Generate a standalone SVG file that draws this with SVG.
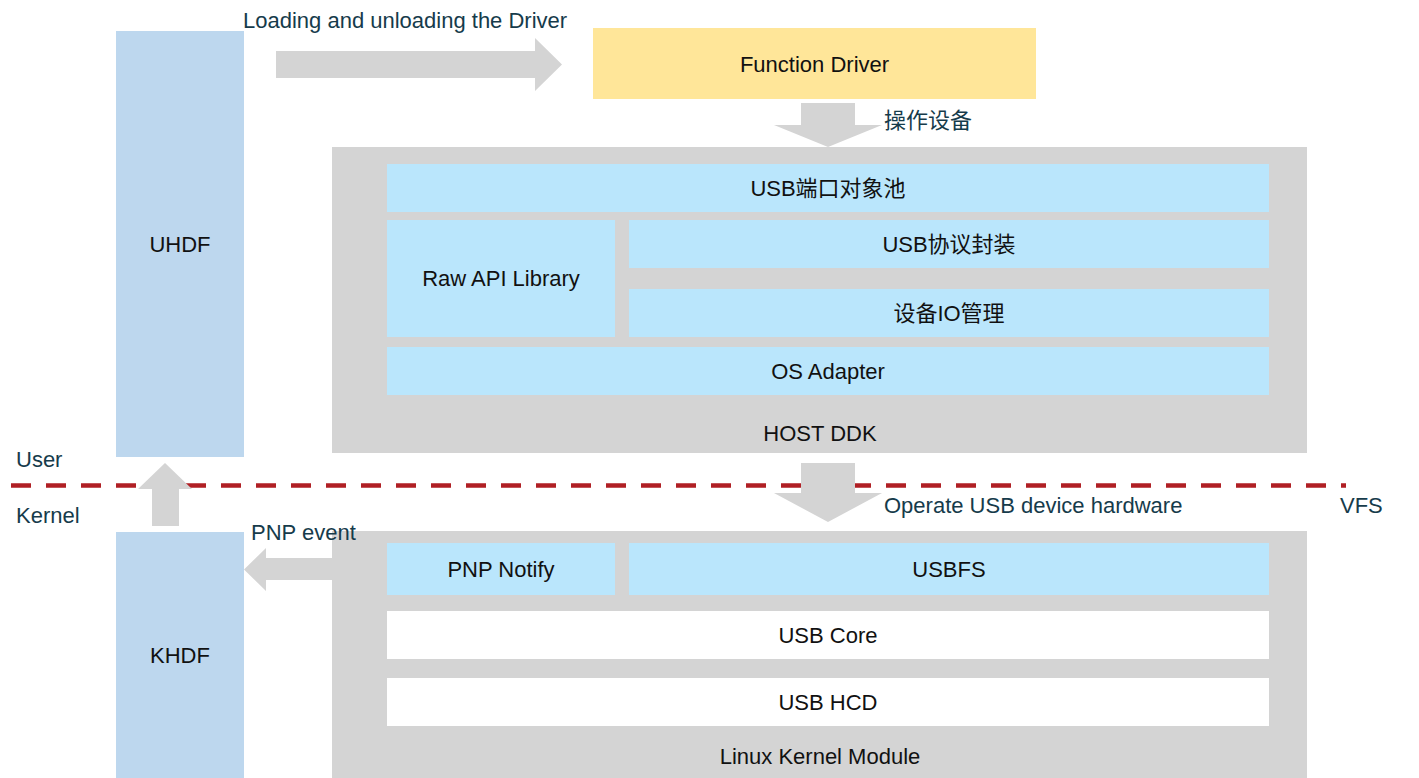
<svg xmlns="http://www.w3.org/2000/svg" width="1419" height="778" viewBox="0 0 1419 778">
<style>
text{font-family:"Liberation Sans",Arial,"Noto Sans CJK SC",sans-serif;font-size:22px;dominant-baseline:central}
.c{text-anchor:middle;fill:#111}
.o{fill:#163B4B}
.hdf{fill:#BDD7EE}
.grp{fill:#D4D4D4}
.blu{fill:#BAE6FC}
.wht{fill:#FFFFFF}
.arr{fill:#D4D4D4}
</style>
<rect width="1419" height="778" fill="#fff"/>
<g id="uhdf"><rect class="hdf" x="116" y="31" width="128" height="426"/><text class="c" x="180" y="244">UHDF</text></g>
<g id="khdf"><rect class="hdf" x="116" y="532" width="128" height="246"/><text class="c" x="180" y="655">KHDF</text></g>
<g id="function-driver"><rect fill="#FFE699" x="593" y="28" width="443" height="71"/><text class="c" x="814.5" y="64">Function Driver</text></g>
<g id="host-ddk"><rect class="grp" x="332" y="147" width="975" height="306"/><text class="c" x="820" y="433">HOST DDK</text></g>
<g id="usb-port-pool"><rect class="blu" x="387" y="164" width="882" height="48"/><text class="c" x="828" y="188">USB端口对象池</text></g>
<g id="raw-api"><rect class="blu" x="387" y="220" width="228" height="117"/><text class="c" x="501" y="278">Raw API Library</text></g>
<g id="usb-protocol"><rect class="blu" x="629" y="220" width="640" height="48"/><text class="c" x="949" y="244">USB协议封装</text></g>
<g id="device-io"><rect class="blu" x="629" y="289" width="640" height="48"/><text class="c" x="949" y="313">设备IO管理</text></g>
<g id="os-adapter"><rect class="blu" x="387" y="347" width="882" height="48"/><text class="c" x="828" y="371">OS Adapter</text></g>
<g id="linux-kernel"><rect class="grp" x="332" y="531" width="975" height="247"/><text class="c" x="820" y="756">Linux Kernel Module</text></g>
<g id="pnp-notify"><rect class="blu" x="387" y="543" width="228" height="52"/><text class="c" x="501" y="569">PNP Notify</text></g>
<g id="usbfs"><rect class="blu" x="629" y="543" width="640" height="52"/><text class="c" x="949" y="569">USBFS</text></g>
<g id="usb-core"><rect class="wht" x="387" y="611" width="882" height="48"/><text class="c" x="828" y="635">USB Core</text></g>
<g id="usb-hcd"><rect class="wht" x="387" y="678" width="882" height="48"/><text class="c" x="828" y="702">USB HCD</text></g>
<g id="boundary">
<line x1="11" y1="485.5" x2="1346" y2="485.5" stroke="#B01F24" stroke-width="4.5" stroke-dasharray="20 15"/>
<text class="o" x="16" y="459">User</text>
<text class="o" x="16" y="515">Kernel</text>
<text class="o" x="1340" y="505">VFS</text>
</g>
<g id="connectors">
<polygon class="arr" points="276,51 535,51 535,38 562,64.5 535,91 535,78 276,78"/>
<polygon class="arr" points="801,103 855,103 855,125 882,125 828,147 774,125 801,125"/>
<polygon class="arr" points="801,463 855,463 855,493 882,493 828,522 774,493 801,493"/>
<polygon class="arr" points="152,526 152,489 138,489 165,463 192,489 179,489 179,526"/>
<polygon class="arr" points="332,558 266,558 266,548 244,569.5 266,591 266,580 332,580"/>
<text class="o" x="243" y="20">Loading and unloading the Driver</text>
<text class="o" x="884" y="120">操作设备</text>
<text class="o" x="884" y="505">Operate USB device hardware</text>
<text class="o" x="251" y="532">PNP event</text>
</g>
</svg>
